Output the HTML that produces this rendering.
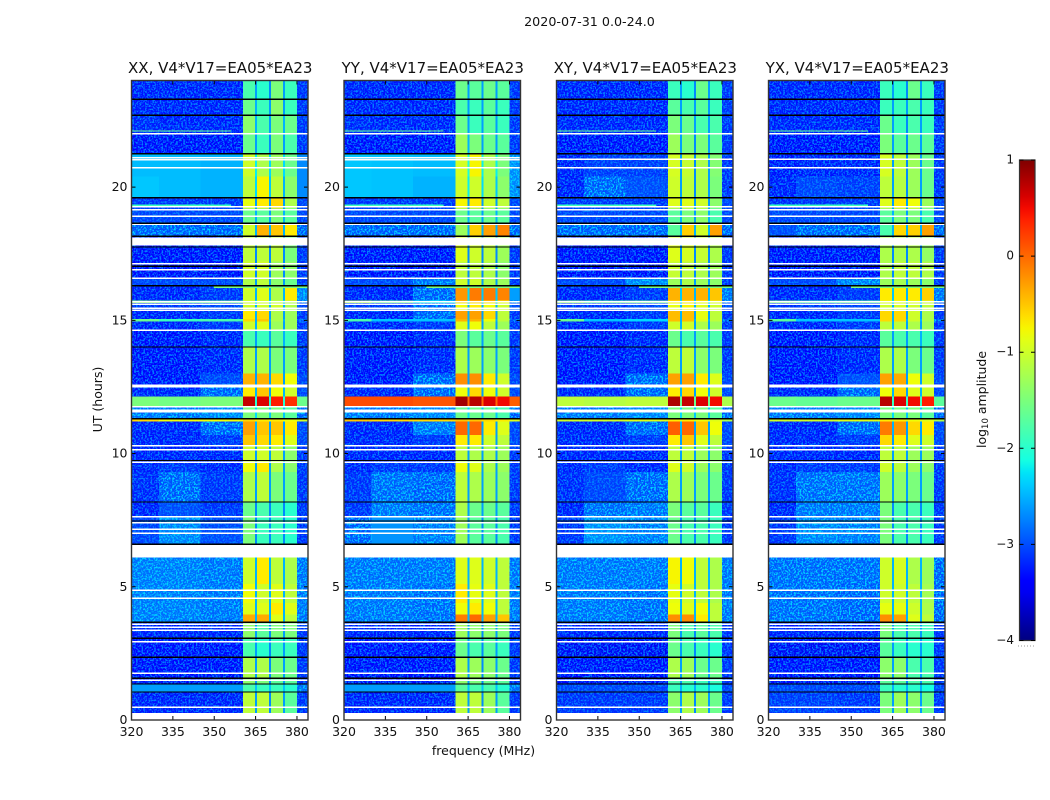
<!DOCTYPE html>
<html lang="en">
<head>
<meta charset="utf-8">
<title>2020-07-31 0.0-24.0 spectrograms</title>
<style>
html,body{margin:0;padding:0;background:#fff;}
svg{display:block;font-family:"DejaVu Sans","Liberation Sans",sans-serif;fill:#111;}
</style>
</head>
<body>
<svg id="figure" xmlns="http://www.w3.org/2000/svg" width="1050" height="800" viewBox="0 0 1050 800">
<defs>
<filter id="speckle" x="0" y="0" width="1" height="1" color-interpolation-filters="sRGB">
<feTurbulence type="fractalNoise" baseFrequency="0.55" numOctaves="2" seed="4"/>
<feColorMatrix type="matrix" values="0 0 0 0 0  0 0 0 0 0.5  0 0 0 0 1  5 0 0 0 -2.25"/>
</filter>
<filter id="speckle-light" x="0" y="0" width="1" height="1" color-interpolation-filters="sRGB">
<feTurbulence type="fractalNoise" baseFrequency="0.55" numOctaves="2" seed="9"/>
<feColorMatrix type="matrix" values="0 0 0 0 0  0 0 0 0 0.82  0 0 0 0 1  5 0 0 0 -2.3"/>
</filter>
</defs>
<text x="589.5" y="26" font-size="12.7" text-anchor="middle">2020-07-31 0.0-24.0</text>
<text x="483.5" y="755" font-size="12.5" text-anchor="middle">frequency (MHz)</text>
<text x="102" y="399.5" font-size="12.5" text-anchor="middle" transform="rotate(-90 102 399.5)">UT (hours)</text>
<text x="986" y="399.5" font-size="12.5" text-anchor="middle" transform="rotate(-90 986 399.5)">log<tspan font-size="8.5" dy="2">10</tspan><tspan dy="-2"> amplitude</tspan></text>
</svg>
<script>
// Time-row edges (UT hours, descending) and frequency-column edges (MHz)
const utEdges = [24,23.3,22.7,22,21.25,20.4,19.6,19.2,18.65,18.15,17.2,16.6,16.3,15.75,15.65,15.35,15.05,14.95,14.6,14,13,12.6,12.15,11.75,11.3,11.2,10.7,10.3,9.7,9.3,8.2,7.6,6.6,6.1,5.1,4.4,3.95,3.67,3.07,2.36,1.57,1.35,1.05,0.27];
const freqEdges = [320,330,345,360.4,364.8,365.5,369.9,370.5,375,375.6,380,384];
const xTicks = [320,335,350,365,380];
const yTicks = [0,5,10,15,20];
const colorbarTicks = [1,0,-1,-2,-3,-4];
const colorbarRange = [-4,1];

// log10 amplitude per row: L1,L2,L3, band1,gap1, band2,gap2, band3,gap3, band4, right
const xxValues = [
[-3.3,-3.3,-3.3,-1.8,-2.6,-2.0,-2.7,-1.5,-2.6,-1.9,-3.2],
[-3.3,-3.3,-3.3,-1.6,-2.5,-1.9,-2.6,-1.4,-2.6,-1.9,-3.2],
[-3.25,-3.3,-3.3,-1.4,-2.5,-1.8,-2.6,-1.5,-2.5,-1.6,-3.2],
[-3.4,-3.4,-3.4,-1.6,-2.6,-1.9,-2.7,-1.5,-2.6,-1.8,-3.2],
[-2.45,-2.45,-2.5,-1.0,-2.2,-1.2,-2.3,-1.3,-2.3,-1.6,-2.7],
[-2.4,-2.45,-2.5,-1.1,-2.3,-0.75,-2.4,-1.1,-2.5,-1.4,-2.7],
[-3.2,-3.2,-3.2,-0.85,-2.6,-0.7,-2.6,-0.6,-2.6,-1.2,-3.1],
[-3.1,-3.1,-3.1,-1.6,-2.5,-1.7,-2.6,-1.5,-2.5,-1.7,-3.1],
[-3.0,-3.0,-3.0,-1.0,-2.5,-0.4,-2.5,-0.5,-2.5,-0.7,-3.0],
[-3.4,-3.4,-3.4,-1.1,-2.7,-1.1,-2.7,-1.1,-2.7,-1.5,-3.2],
[-3.4,-3.4,-3.4,-1.0,-2.7,-1.0,-2.7,-1.3,-2.7,-1.4,-3.2],
[-3.1,-3.1,-3.1,-1.2,-2.6,-1.1,-2.6,-1.4,-2.6,-1.6,-3.2],
[-3.3,-3.3,-3.2,-1.0,-2.5,-0.9,-2.5,-1.2,-2.5,-0.7,-2.8],
[-1.4,-1.7,-1.6,-1.0,-2.2,-1.0,-2.2,-1.1,-2.2,-1.2,-2.9],
[-3.2,-3.2,-3.1,-1.0,-2.5,-1.0,-2.5,-1.0,-2.5,-1.2,-3.1],
[-3.3,-3.3,-3.2,-0.7,-2.5,-0.6,-2.6,-1.2,-2.6,-1.3,-3.2],
[-1.6,-1.9,-1.8,-0.6,-2.5,-0.5,-2.5,-1.2,-2.5,-1.3,-3.0],
[-3.3,-3.3,-3.2,-1.0,-2.5,-0.9,-2.6,-1.3,-2.6,-1.3,-3.2],
[-3.4,-3.4,-3.3,-1.8,-2.6,-1.9,-2.6,-1.7,-2.5,-1.9,-3.2],
[-3.4,-3.4,-3.3,-1.2,-2.6,-1.2,-2.6,-1.5,-2.6,-1.5,-3.2],
[-3.4,-3.4,-3.1,-0.4,-2.6,-0.4,-2.6,-0.6,-2.6,-0.8,-3.1],
[-3.3,-3.3,-3.0,-0.7,-2.5,-0.5,-2.6,-0.8,-2.5,-1.0,-3.1],
[-1.5,-1.55,-1.5,0.7,-2.0,0.6,-2.0,0.4,-2.0,0.3,-1.6],
[-2.9,-2.9,-2.8,-1.5,-2.3,-1.5,-2.4,-1.5,-2.4,-1.7,-3.0],
[-0.6,-0.8,-0.8,-0.6,-0.7,-0.7,-0.8,-0.7,-0.8,-0.8,-1.0],
[-3.3,-3.3,-3.0,-0.3,-2.5,-0.5,-2.6,-0.5,-2.6,-0.7,-3.1],
[-3.3,-3.3,-3.2,-0.5,-2.6,-0.6,-2.6,-0.7,-2.6,-0.9,-3.1],
[-3.3,-3.3,-3.3,-1.0,-2.6,-1.0,-2.6,-1.1,-2.6,-1.4,-3.2],
[-3.3,-3.2,-3.3,-0.8,-2.6,-0.7,-2.6,-1.2,-2.6,-1.4,-3.2],
[-3.25,-3.0,-3.2,-1.2,-2.6,-1.1,-2.6,-1.5,-2.6,-1.6,-3.2],
[-3.3,-3.05,-3.2,-1.6,-2.7,-1.8,-2.7,-1.9,-2.7,-2.0,-3.2],
[-3.1,-2.8,-3.05,-1.5,-2.7,-1.9,-2.7,-1.9,-2.7,-2.0,-3.2],
[-3.3,-3.3,-3.3,-1.5,-2.7,-1.5,-2.7,-1.5,-2.7,-1.5,-3.2],
[-2.85,-2.85,-2.9,-1.0,-2.5,-0.7,-2.5,-1.1,-2.5,-1.2,-2.9],
[-2.85,-2.85,-2.9,-0.8,-2.5,-1.0,-2.5,-0.9,-2.5,-1.1,-2.9],
[-2.85,-2.85,-2.9,-0.9,-2.5,-0.9,-2.5,-0.7,-2.5,-0.9,-2.9],
[-2.85,-2.85,-2.9,-0.35,-2.5,-0.35,-2.5,-0.9,-2.5,-1.1,-2.9],
[-3.3,-3.3,-3.3,-1.4,-2.6,-1.7,-2.7,-1.5,-2.6,-1.5,-3.2],
[-3.45,-3.45,-3.45,-1.8,-2.6,-2.0,-2.7,-1.9,-2.6,-1.9,-3.2],
[-3.4,-3.4,-3.4,-1.2,-2.6,-1.2,-2.7,-1.5,-2.6,-1.6,-3.2],
[-3.4,-3.4,-3.4,-1.4,-2.6,-1.5,-2.7,-1.7,-2.6,-1.7,-3.2],
[-2.6,-2.6,-2.6,-1.8,-2.4,-1.9,-2.4,-1.9,-2.4,-2.0,-2.9],
[-3.3,-3.3,-3.3,-1.1,-2.6,-1.1,-2.7,-1.3,-2.6,-1.7,-3.2]
];
const yyValues = [
[-3.3,-3.3,-3.3,-1.6,-2.6,-1.7,-2.6,-1.6,-2.6,-1.7,-3.2],
[-3.3,-3.3,-3.3,-1.8,-2.6,-1.9,-2.6,-1.7,-2.6,-1.9,-3.2],
[-3.25,-3.3,-3.3,-1.6,-2.6,-1.9,-2.6,-1.7,-2.6,-1.9,-3.2],
[-3.4,-3.4,-3.4,-1.3,-2.5,-1.5,-2.6,-1.6,-2.6,-1.7,-3.2],
[-2.4,-2.42,-2.45,-0.95,-2.1,-0.75,-2.2,-1.2,-2.2,-1.5,-2.75],
[-2.4,-2.42,-2.5,-1.0,-2.2,-1.0,-2.3,-1.2,-2.4,-1.4,-2.75],
[-3.2,-3.2,-3.2,-0.75,-2.6,-0.7,-2.6,-1.0,-2.6,-1.1,-3.1],
[-3.1,-3.1,-3.1,-1.6,-2.5,-1.7,-2.6,-1.6,-2.5,-1.7,-3.1],
[-3.0,-3.0,-3.0,-1.3,-2.5,-0.55,-2.5,-0.3,-2.5,-0.15,-3.0],
[-3.4,-3.4,-3.4,-0.9,-2.7,-1.0,-2.7,-1.1,-2.7,-1.3,-3.2],
[-3.4,-3.4,-3.4,-1.1,-2.7,-1.1,-2.7,-1.2,-2.7,-1.4,-3.2],
[-3.1,-3.1,-2.9,-1.0,-2.6,-1.0,-2.6,-1.2,-2.6,-1.3,-3.2],
[-3.3,-3.3,-3.0,-0.25,-2.3,-0.1,-2.4,-0.1,-2.4,-0.15,-2.6],
[-1.2,-1.6,-2.2,-0.5,-2.2,-0.5,-2.2,-0.6,-2.2,-0.8,-2.9],
[-3.2,-3.2,-3.0,-0.8,-2.5,-0.7,-2.5,-0.8,-2.5,-1.0,-3.1],
[-3.3,-3.3,-3.0,-0.3,-2.5,-0.3,-2.6,-0.6,-2.6,-1.1,-3.2],
[-1.8,-2.4,-2.4,-0.4,-2.5,-0.4,-2.5,-0.8,-2.5,-1.1,-3.0],
[-3.3,-3.3,-3.2,-0.9,-2.5,-0.8,-2.6,-1.1,-2.6,-1.3,-3.2],
[-3.4,-3.4,-3.3,-1.5,-2.6,-1.7,-2.6,-1.6,-2.5,-1.7,-3.2],
[-3.4,-3.4,-3.3,-1.2,-2.6,-1.3,-2.6,-1.4,-2.6,-1.5,-3.2],
[-3.4,-3.4,-3.0,-0.2,-2.6,-0.2,-2.6,-0.7,-2.6,-1.0,-3.1],
[-3.3,-3.3,-3.0,-0.8,-2.5,-0.6,-2.6,-0.8,-2.5,-1.0,-3.1],
[0.15,0.15,0.1,0.85,0.0,0.75,0.0,0.6,0.0,0.5,0.05],
[-2.9,-2.9,-2.8,-1.6,-2.3,-1.6,-2.4,-1.6,-2.4,-1.8,-3.0],
[-0.5,-0.6,-0.6,-0.5,-0.6,-0.5,-0.6,-0.6,-0.7,-0.7,-0.9],
[-3.3,-3.3,-2.9,0.0,-2.5,0.0,-2.6,-0.7,-2.6,-0.9,-3.1],
[-3.3,-3.3,-3.2,-0.7,-2.6,-0.7,-2.6,-1.0,-2.6,-1.1,-3.1],
[-3.3,-3.3,-3.3,-1.1,-2.6,-1.2,-2.6,-1.2,-2.6,-1.3,-3.2],
[-3.3,-3.2,-3.2,-0.8,-2.6,-0.9,-2.6,-1.2,-2.6,-1.3,-3.2],
[-3.2,-2.95,-3.0,-1.1,-2.6,-1.2,-2.6,-1.3,-2.6,-1.4,-3.2],
[-3.2,-2.9,-2.95,-1.2,-2.6,-1.6,-2.6,-1.6,-2.6,-1.7,-3.2],
[-3.0,-2.65,-2.85,-1.3,-2.6,-1.7,-2.7,-1.7,-2.7,-1.8,-3.2],
[-3.3,-3.3,-3.3,-1.5,-2.7,-1.5,-2.7,-1.5,-2.7,-1.5,-3.2],
[-2.9,-2.9,-2.9,-0.9,-2.5,-0.9,-2.5,-1.0,-2.5,-1.1,-2.9],
[-2.9,-2.9,-2.95,-0.7,-2.5,-0.85,-2.5,-0.9,-2.5,-1.1,-2.9],
[-2.9,-2.9,-2.95,-0.8,-2.5,-0.7,-2.5,-0.8,-2.5,-1.1,-2.9],
[-2.9,-2.9,-2.95,-0.1,-2.5,0.0,-2.5,-0.3,-2.5,-0.5,-2.9],
[-3.3,-3.3,-3.3,-1.3,-2.6,-1.4,-2.7,-1.4,-2.6,-1.5,-3.2],
[-3.45,-3.45,-3.45,-1.6,-2.6,-1.8,-2.7,-1.7,-2.6,-1.9,-3.2],
[-3.4,-3.4,-3.4,-1.2,-2.6,-1.3,-2.7,-1.4,-2.6,-1.6,-3.2],
[-3.4,-3.4,-3.4,-1.4,-2.6,-1.5,-2.7,-1.6,-2.6,-1.7,-3.2],
[-2.6,-2.6,-2.6,-1.7,-2.4,-1.8,-2.4,-1.8,-2.4,-2.0,-2.9],
[-3.3,-3.3,-3.3,-1.1,-2.6,-1.1,-2.7,-1.3,-2.6,-1.7,-3.2]
];
const xyValues = [
[-3.3,-3.3,-3.3,-1.9,-2.6,-2.0,-2.7,-1.6,-2.6,-1.9,-3.2],
[-3.3,-3.3,-3.3,-1.7,-2.6,-1.8,-2.6,-1.7,-2.6,-1.9,-3.2],
[-3.3,-3.3,-3.3,-1.5,-2.6,-1.6,-2.6,-1.8,-2.6,-1.8,-3.2],
[-3.4,-3.4,-3.4,-1.3,-2.6,-1.5,-2.7,-1.5,-2.6,-1.7,-3.2],
[-3.3,-3.15,-3.15,-0.95,-2.6,-1.05,-2.7,-1.2,-2.6,-1.45,-3.2],
[-3.3,-3.0,-3.05,-1.0,-2.6,-1.1,-2.7,-1.2,-2.6,-1.5,-3.2],
[-3.2,-3.2,-3.2,-0.9,-2.6,-0.9,-2.6,-1.0,-2.6,-1.4,-3.1],
[-3.1,-3.1,-3.1,-1.7,-2.5,-1.5,-2.6,-1.4,-2.5,-1.8,-3.1],
[-3.0,-3.0,-3.0,-1.7,-2.5,-0.55,-2.5,-1.0,-2.5,-0.3,-3.0],
[-3.4,-3.4,-3.4,-0.9,-2.7,-0.95,-2.7,-1.05,-2.7,-1.2,-3.2],
[-3.4,-3.4,-3.4,-1.05,-2.7,-1.1,-2.7,-1.2,-2.7,-1.3,-3.2],
[-3.1,-3.1,-2.8,-1.3,-2.6,-1.2,-2.6,-1.3,-2.6,-1.4,-3.2],
[-3.3,-3.3,-3.2,-0.4,-2.4,-0.4,-2.5,-0.4,-2.5,-0.5,-2.9],
[-1.4,-1.7,-1.6,-0.7,-2.2,-0.7,-2.2,-0.8,-2.2,-0.9,-2.9],
[-3.2,-3.2,-3.1,-0.85,-2.5,-0.75,-2.5,-0.9,-2.5,-1.0,-3.1],
[-3.3,-3.3,-3.2,-0.45,-2.5,-0.45,-2.6,-0.85,-2.6,-1.1,-3.2],
[-1.6,-2.4,-2.3,-0.45,-2.5,-0.45,-2.5,-0.9,-2.5,-1.1,-3.0],
[-3.3,-3.3,-3.2,-1.0,-2.5,-1.0,-2.6,-1.2,-2.6,-1.3,-3.2],
[-3.4,-3.4,-3.3,-1.6,-2.6,-1.8,-2.6,-1.7,-2.5,-1.8,-3.2],
[-3.4,-3.4,-3.3,-1.1,-2.6,-1.1,-2.6,-1.4,-2.6,-1.5,-3.2],
[-3.4,-3.4,-3.0,-0.3,-2.6,-0.3,-2.6,-0.7,-2.6,-0.9,-3.1],
[-3.3,-3.3,-3.0,-0.7,-2.5,-0.6,-2.6,-0.8,-2.5,-1.0,-3.1],
[-1.1,-1.15,-1.1,0.8,-1.6,0.7,-1.6,0.6,-1.6,0.5,-1.2],
[-2.9,-2.9,-2.8,-1.5,-2.3,-1.5,-2.4,-1.5,-2.4,-1.7,-3.0],
[-1.0,-1.0,-0.9,-0.7,-1.0,-0.7,-1.0,-0.8,-1.0,-0.9,-1.2],
[-3.3,-3.3,-3.0,0.05,-2.5,0.0,-2.6,-0.5,-2.6,-0.8,-3.1],
[-3.3,-3.3,-3.2,-0.7,-2.6,-0.5,-2.6,-0.9,-2.6,-1.1,-3.1],
[-3.3,-3.3,-3.3,-1.1,-2.6,-1.1,-2.6,-1.3,-2.6,-1.4,-3.2],
[-3.3,-3.2,-3.3,-0.9,-2.6,-1.0,-2.6,-1.3,-2.6,-1.4,-3.2],
[-3.25,-3.1,-3.0,-1.2,-2.6,-1.3,-2.6,-1.5,-2.6,-1.6,-3.2],
[-3.3,-2.95,-2.9,-1.5,-2.7,-1.7,-2.7,-1.7,-2.7,-1.9,-3.2],
[-3.2,-2.75,-2.85,-1.6,-2.7,-1.8,-2.7,-1.8,-2.7,-1.9,-3.2],
[-3.3,-3.3,-3.3,-1.5,-2.7,-1.5,-2.7,-1.5,-2.7,-1.5,-3.2],
[-2.9,-2.9,-2.9,-0.75,-2.5,-0.8,-2.5,-1.1,-2.5,-1.2,-2.9],
[-2.9,-2.9,-2.95,-0.85,-2.5,-1.0,-2.5,-1.1,-2.5,-1.2,-2.9],
[-2.9,-2.9,-2.95,-0.8,-2.5,-0.9,-2.5,-0.8,-2.5,-1.1,-2.9],
[-2.9,-2.9,-2.95,-0.2,-2.5,-0.2,-2.5,-0.7,-2.5,-1.1,-2.9],
[-3.3,-3.3,-3.3,-1.5,-2.6,-1.8,-2.7,-1.7,-2.6,-1.8,-3.2],
[-3.5,-3.5,-3.5,-1.6,-2.6,-1.8,-2.7,-1.9,-2.6,-2.0,-3.2],
[-3.45,-3.45,-3.45,-1.2,-2.6,-1.3,-2.7,-1.6,-2.6,-1.6,-3.2],
[-3.4,-3.4,-3.4,-1.8,-2.6,-1.8,-2.7,-1.9,-2.6,-1.9,-3.2],
[-3.1,-3.1,-3.1,-1.9,-2.5,-2.0,-2.5,-2.0,-2.5,-2.1,-3.1],
[-3.2,-3.2,-3.2,-1.4,-2.6,-1.2,-2.7,-1.3,-2.6,-1.6,-3.2]
];
const yxValues = [
[-3.3,-3.3,-3.3,-1.9,-2.6,-2.0,-2.7,-1.6,-2.6,-1.9,-3.2],
[-3.3,-3.3,-3.3,-1.9,-2.6,-1.9,-2.6,-1.8,-2.6,-1.9,-3.2],
[-3.3,-3.3,-3.3,-1.6,-2.6,-1.9,-2.7,-1.8,-2.6,-1.9,-3.2],
[-3.4,-3.4,-3.4,-1.5,-2.6,-1.7,-2.7,-1.6,-2.6,-1.7,-3.2],
[-3.35,-3.3,-3.3,-0.95,-2.6,-1.1,-2.7,-1.3,-2.6,-1.6,-3.2],
[-3.3,-3.1,-3.15,-1.1,-2.6,-1.15,-2.7,-1.3,-2.6,-1.6,-3.2],
[-3.25,-3.2,-3.2,-0.9,-2.6,-0.7,-2.6,-0.8,-2.6,-1.3,-3.1],
[-3.1,-3.1,-3.1,-1.7,-2.5,-1.5,-2.6,-1.5,-2.5,-1.8,-3.1],
[-3.05,-3.0,-3.0,-1.8,-2.5,-0.6,-2.5,-0.55,-2.5,-0.3,-3.0],
[-3.4,-3.4,-3.4,-1.2,-2.7,-1.2,-2.7,-1.2,-2.7,-1.35,-3.2],
[-3.4,-3.4,-3.4,-1.2,-2.7,-1.1,-2.7,-1.1,-2.7,-1.2,-3.2],
[-3.1,-3.1,-2.85,-1.3,-2.6,-1.25,-2.6,-1.3,-2.6,-1.4,-3.2],
[-3.3,-3.3,-3.2,-0.7,-2.4,-0.7,-2.5,-0.7,-2.5,-0.55,-2.9],
[-1.5,-1.8,-1.7,-0.9,-2.2,-0.9,-2.2,-0.9,-2.2,-1.0,-2.9],
[-3.2,-3.2,-3.1,-1.0,-2.5,-0.95,-2.5,-1.0,-2.5,-1.1,-3.1],
[-3.3,-3.3,-3.2,-0.6,-2.5,-0.6,-2.6,-1.0,-2.6,-1.2,-3.2],
[-1.7,-2.4,-2.4,-0.6,-2.5,-0.6,-2.5,-1.0,-2.5,-1.2,-3.0],
[-3.3,-3.3,-3.2,-1.1,-2.5,-1.1,-2.6,-1.2,-2.6,-1.3,-3.2],
[-3.4,-3.4,-3.3,-1.7,-2.6,-1.8,-2.6,-1.8,-2.5,-1.9,-3.2],
[-3.4,-3.4,-3.3,-1.2,-2.6,-1.2,-2.6,-1.5,-2.6,-1.6,-3.2],
[-3.4,-3.4,-3.05,-0.3,-2.6,-0.35,-2.6,-0.8,-2.6,-1.0,-3.1],
[-3.3,-3.3,-3.0,-0.8,-2.5,-0.6,-2.6,-0.9,-2.5,-1.0,-3.1],
[-1.6,-1.65,-1.6,0.75,-1.9,0.6,-1.9,0.5,-1.9,0.4,-1.7],
[-2.9,-2.9,-2.8,-1.5,-2.3,-1.5,-2.4,-1.5,-2.4,-1.7,-3.0],
[-1.0,-1.0,-0.9,-0.7,-1.0,-0.7,-1.0,-0.8,-1.0,-0.9,-1.2],
[-3.3,-3.3,-3.0,-0.1,-2.5,-0.25,-2.6,-0.6,-2.6,-0.7,-3.1],
[-3.3,-3.3,-3.2,-0.6,-2.6,-0.7,-2.6,-0.9,-2.6,-1.0,-3.1],
[-3.3,-3.3,-3.3,-1.1,-2.6,-1.1,-2.6,-1.3,-2.6,-1.3,-3.2],
[-3.3,-3.2,-3.2,-1.0,-2.6,-1.1,-2.6,-1.3,-2.6,-1.4,-3.2],
[-3.25,-2.95,-2.95,-1.3,-2.6,-1.4,-2.6,-1.5,-2.6,-1.6,-3.2],
[-3.3,-2.9,-2.9,-1.5,-2.7,-1.8,-2.7,-1.8,-2.7,-1.9,-3.2],
[-3.2,-2.8,-2.85,-1.5,-2.7,-1.8,-2.7,-1.8,-2.7,-1.9,-3.2],
[-3.3,-3.3,-3.3,-1.5,-2.7,-1.5,-2.7,-1.5,-2.7,-1.5,-3.2],
[-2.95,-2.95,-2.95,-1.0,-2.5,-0.95,-2.5,-1.2,-2.5,-1.3,-3.0],
[-2.95,-2.95,-3.0,-1.0,-2.5,-1.0,-2.5,-1.1,-2.5,-1.25,-3.0],
[-2.95,-2.95,-3.0,-0.85,-2.5,-0.85,-2.5,-1.0,-2.5,-1.2,-3.0],
[-2.95,-2.95,-3.0,-0.2,-2.5,-0.3,-2.5,-0.9,-2.5,-1.1,-3.0],
[-3.3,-3.3,-3.3,-1.5,-2.6,-1.8,-2.7,-1.8,-2.6,-1.9,-3.2],
[-3.5,-3.5,-3.5,-1.7,-2.6,-1.9,-2.7,-2.0,-2.6,-2.0,-3.2],
[-3.45,-3.45,-3.45,-1.4,-2.6,-1.4,-2.7,-1.8,-2.6,-1.8,-3.2],
[-3.4,-3.4,-3.4,-1.7,-2.6,-1.7,-2.7,-1.8,-2.6,-1.8,-3.2],
[-3.1,-3.1,-3.1,-1.9,-2.5,-2.0,-2.5,-2.0,-2.5,-2.1,-3.1],
[-3.15,-3.15,-3.2,-1.5,-2.6,-1.3,-2.7,-1.4,-2.6,-1.6,-3.2]
];

// Narrow interference streaks: UT, start MHz, end MHz, log10 amplitude
const rfiUt = [22.1,19.32,16.24];
const rfiStart = [320,320,350];
const rfiEnd = [356,356,384];
const rfiValue = [-1.6,-1.9,-1.5];

// Flagged times (UT hours)
const blackLines = [23.3,22.7,21.25,19.6,18.64,18.15,17.75,17.03,16.3,14.0,11.3,9.74,8.18,7.47,6.6,3.67,3.07,2.36,1.57,1.35,1.05];
const whiteGaps = [[18.1,17.8],[6.58,6.1],[0.27,0]];
const whiteLinesCross = [22.0,19.27,19.15,18.9,18.6,17.13,16.9,16.57,15.7,15.6,15.46,15.37,14.62,12.57,12.5,11.75,11.62,11.56,10.3,10.15,9.67,7.62,7.41,7.15,7.0,4.87,4.57,3.6,3.49,3.37,2.93,1.75,1.5,0.47];
const whiteLinesParallelXXYY = [21.1,21.03,20.73];
const whiteLinesParallelXYYX = [21.04,20.73];

const panelNames = ["xx","yy","xy","yx"];
const panelTitles = ["XX, V4*V17=EA05*EA23","YY, V4*V17=EA05*EA23","XY, V4*V17=EA05*EA23","YX, V4*V17=EA05*EA23"];
const panelValues = [xxValues,yyValues,xyValues,yxValues];
const panelExtraWhite = [whiteLinesParallelXXYY,whiteLinesParallelXXYY,whiteLinesParallelXYYX,whiteLinesParallelXYYX];
const panelLefts = [131.5,344,556.5,768.5];

const NS = "http://www.w3.org/2000/svg";
const svg = document.getElementById("figure");
const plotW = 176.5, plotTop = 80.5, plotBottom = 720;
const yOf = ut => plotBottom - (ut / 24) * (plotBottom - plotTop);
const xOf = (left, f) => left + ((f - 320) / (384 - 320)) * plotW;

function lerpStops(t, stops) {
  for (let i = 1; i < stops.length; i++) {
    if (t <= stops[i][0]) {
      const a = stops[i-1], b = stops[i];
      return a[1] + (b[1]-a[1]) * (t-a[0]) / (b[0]-a[0]);
    }
  }
  return stops[stops.length-1][1];
}
const jetR = [[0,0],[0.35,0],[0.66,1],[0.89,1],[1,0.5]];
const jetG = [[0,0],[0.125,0],[0.375,1],[0.64,1],[0.91,0],[1,0]];
const jetB = [[0,0.5],[0.11,1],[0.34,1],[0.65,0],[1,0]];
function colorOf(v) {
  const t = Math.max(0, Math.min(1, (v - colorbarRange[0]) / (colorbarRange[1] - colorbarRange[0])));
  const c = s => Math.round(255 * lerpStops(t, s));
  return "rgb(" + c(jetR) + "," + c(jetG) + "," + c(jetB) + ")";
}
function make(tag, attrs, parent) {
  const el = document.createElementNS(NS, tag);
  for (const k in attrs) el.setAttribute(k, attrs[k]);
  (parent || svg).appendChild(el);
  return el;
}
function hBand(g, left, top, bottom, color) {
  return make("rect", {x:left, y:top, width:plotW, height:bottom-top, fill:color, "shape-rendering":"crispEdges"}, g);
}

panelNames.forEach((name, p) => {
  const left = panelLefts[p];
  const values = panelValues[p];
  const g = make("g", {});
  
  

  const title = make("text", {x:left + plotW/2 + 0.5, y:73, "font-size":"15", "text-anchor":"middle"}, g);
  
  
  title.textContent = panelTitles[p];

  const cells = make("g", {"shape-rendering":"crispEdges"}, g);
  
  
  const clipDark = make("clipPath", {id:"noise-dark-" + name}, g);
  const clipLight = make("clipPath", {id:"noise-light-" + name}, g);
  values.forEach((row, r) => {
    const y0 = yOf(utEdges[r]), y1 = yOf(utEdges[r+1]);
    row.forEach((v, c) => {
      const x0 = xOf(left, freqEdges[c]), x1 = xOf(left, freqEdges[c+1]);
      const cell = make("rect", {x:x0, y:y0, width:x1-x0, height:y1-y0, fill:colorOf(v)}, cells);
      
      
      if (v <= -3.02) make("rect", {x:x0, y:y0, width:x1-x0, height:y1-y0}, clipDark);
      else if (v < -2.7) make("rect", {x:x0, y:y0, width:x1-x0, height:y1-y0}, clipLight);
    });
  });
  const noise = make("rect", {x:left, y:plotTop, width:plotW, height:plotBottom-plotTop, filter:"url(#speckle)", "clip-path":"url(#noise-dark-" + name + ")"}, g);
  
  
  const noiseLight = make("rect", {x:left, y:plotTop, width:plotW, height:plotBottom-plotTop, filter:"url(#speckle-light)", "clip-path":"url(#noise-light-" + name + ")"}, g);
  
  

  rfiUt.forEach((ut, i) => {
    const x0 = xOf(left, rfiStart[i]), x1 = xOf(left, rfiEnd[i]);
    const streak = make("rect", {x:x0, y:yOf(ut)-0.6, width:x1-x0, height:1.2, fill:colorOf(rfiValue[i]), "shape-rendering":"crispEdges"}, g);
    
    
  });

  whiteGaps.forEach(gap => {
    const band = hBand(g, left, yOf(gap[0]), yOf(gap[1]), "#fff");
    
    
  });
  whiteLinesCross.concat(panelExtraWhite[p]).forEach(ut => {
    const line = hBand(g, left, yOf(ut) - 0.75, yOf(ut) + 0.75, "#fff");
    
    
  });
  blackLines.forEach(ut => {
    const line = hBand(g, left, yOf(ut) - 0.7, yOf(ut) + 0.7, "#000");
    
    
  });

  xTicks.forEach(f => {
    const x = xOf(left, f);
    const t = make("path", {d:"M"+x+" "+plotBottom+"v-4M"+x+" "+plotTop+"v4", stroke:"#000", "stroke-width":"1", fill:"none"}, g);
    
    
    const lab = make("text", {x:x, y:736, "font-size":"12.5", "text-anchor":"middle"}, g);
    
    
    lab.textContent = f;
  });
  yTicks.forEach(u => {
    const y = yOf(u);
    const t = make("path", {d:"M"+left+" "+y+"h4M"+(left+plotW)+" "+y+"h-4", stroke:"#000", "stroke-width":"1", fill:"none"}, g);
    
    
    const lab = make("text", {x:left-4, y:y+4, "font-size":"12.5", "text-anchor":"end"}, g);
    
    
    lab.textContent = u;
  });
  const frame = make("rect", {x:left, y:plotTop, width:plotW, height:plotBottom-plotTop, fill:"none", stroke:"#333", "stroke-width":"1.4"}, g);
  
  
});

// Colorbar
const cbLeft = 1019.5, cbW = 15.5, cbTop = 160, cbBottom = 640.5;
const cbY = v => cbBottom - (v - colorbarRange[0]) / (colorbarRange[1]-colorbarRange[0]) * (cbBottom - cbTop);
const cb = make("g", {});


const grad = make("linearGradient", {id:"jetGrad", x1:"0", y1:"1", x2:"0", y2:"0"}, cb);
for (let i = 0; i <= 40; i++) {
  const t = i / 40;
  make("stop", {offset:t, "stop-color":colorOf(colorbarRange[0] + t*(colorbarRange[1]-colorbarRange[0]))}, grad);
}
const bar = make("rect", {x:cbLeft, y:cbTop, width:cbW, height:cbBottom-cbTop, fill:"url(#jetGrad)", stroke:"#333", "stroke-width":"1.2"}, cb);


colorbarTicks.forEach(v => {
  const y = cbY(v);
  const t = make("path", {d:"M"+cbLeft+" "+y+"h4M"+(cbLeft+cbW)+" "+y+"h-4", stroke:"#000", "stroke-width":"1", fill:"none"}, cb);
  
  
  const lab = make("text", {x:1014, y:y+3.5, "font-size":"12", "text-anchor":"end"}, cb);
  
  
  lab.textContent = v < 0 ? "\u2212" + Math.abs(v) : String(v);
});
const dots = make("line", {x1:1018, x2:1035, y1:646, y2:646, stroke:"#999", "stroke-width":"1", "stroke-dasharray":"1 2"}, cb);


</script>
</body>
</html>
